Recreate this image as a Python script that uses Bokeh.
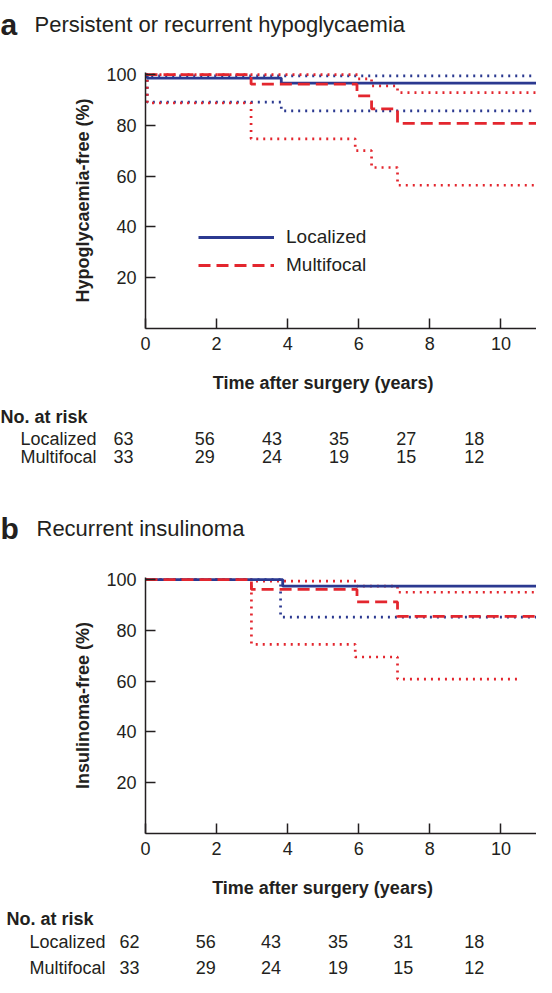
from bokeh.plotting import figure
from bokeh.models import Range1d, FixedTicker, Legend, LegendItem
from bokeh.embed import file_html
from bokeh.resources import INLINE
from bokeh.core.properties import value

FONT = "Liberation Sans"
INK = "#231f20"
BLUE = "#2b3990"
RED = "#e3262e"

x_ticks = [0, 2, 4, 6, 8, 10]
y_ticks = [20, 40, 60, 80, 100]
X_MAX = 11
Y_MAX = 100.8

# ---------------- Panel a : persistent or recurrent hypoglycaemia ----------
a_loc_t = [0, 0.05, 3.82, 11]
a_loc_s = [100, 98.6, 96.6, 96.6]
a_loc_hi_t = [0, 0.05, 11]
a_loc_hi_s = [100, 99.5, 99.5]
a_loc_lo_t = [0, 0.05, 3.82, 11]
a_loc_lo_s = [100, 89.1, 85.7, 85.7]
a_mul_t = [0, 2.97, 5.95, 6.36, 7.09, 11]
a_mul_s = [100, 96.2, 91.6, 86.5, 80.8, 80.8]
a_mul_hi_t = [0, 5.97, 6.36, 7.09, 11]
a_mul_hi_s = [100, 98.3, 95.5, 92.9, 92.9]
a_mul_lo_t = [0, 0.05, 2.97, 5.9, 6.36, 7.09, 11]
a_mul_lo_s = [100, 88.8, 74.7, 70.0, 63.4, 56.4, 56.4]

a_risk_loc = [63, 56, 43, 35, 27, 18]
a_risk_mul = [33, 29, 24, 19, 15, 12]

# ---------------- Panel b : recurrent insulinoma ---------------------------
b_loc_t = [0, 3.86, 11]
b_loc_s = [100, 97.4, 97.4]
b_loc_lo_t = [0, 3.8, 11]
b_loc_lo_s = [100, 85.2, 85.2]
b_mul_t = [0, 2.98, 5.95, 7.09, 11]
b_mul_s = [100, 96.1, 91.2, 85.5, 85.5]
b_mul_hi_t = [0, 2.98, 5.95, 7.09, 11]
b_mul_hi_s = [100, 99.4, 97.4, 95.0, 95.0]
b_mul_lo_t = [0, 2.98, 5.9, 7.09, 10.53]
b_mul_lo_s = [100, 74.5, 69.5, 60.8, 60.8]

b_risk_loc = [62, 56, 43, 35, 31, 18]
b_risk_mul = [33, 29, 24, 19, 15, 12]

groups = ["Localized", "Multifocal"]

# ---------------- layout (pixels) -------------------------------------------
W = 536
LEFT = 145            # frame left edge
FRAME_W = W - LEFT
FRAME_H = 256


def mapx(ref_x):
    if ref_x < 149:
        return max(0, ref_x - 4)
    return LEFT + (ref_x - 149) * FRAME_W / 402.0


def text_fig(top, h):
    p = figure(width=W, height=h, x_range=Range1d(0, W), y_range=Range1d(top + h, top),
               toolbar_location=None, output_backend="svg", min_border=0,
               x_axis_location=None, y_axis_location=None)
    p.outline_line_color = None
    p.xgrid.visible = False
    p.ygrid.visible = False
    return p


def txt(p, xs, ys, texts, size, bold=False, align="left", baseline="middle"):
    p.text(x=xs, y=ys, text=texts, text_font=value(FONT),
           text_font_size=f"{size}px",
           text_font_style="bold" if bold else "normal",
           text_align=align, text_baseline=baseline, text_color=INK)


def km_fig(h, top, bottom, ylabel):
    p = figure(width=W, height=h, x_range=Range1d(0, X_MAX), y_range=Range1d(0, Y_MAX),
               toolbar_location=None, output_backend="svg",
               min_border_left=LEFT, min_border_right=0,
               min_border_top=top, min_border_bottom=bottom)
    p.outline_line_color = None
    p.xgrid.visible = False
    p.ygrid.visible = False
    p.xaxis.ticker = FixedTicker(ticks=x_ticks)
    p.yaxis.ticker = FixedTicker(ticks=y_ticks)
    for ax in (p.xaxis[0], p.yaxis[0]):
        ax.axis_line_color = INK
        ax.axis_line_width = 1.5
        ax.major_tick_line_color = INK
        ax.major_tick_line_width = 1.5
        ax.major_tick_in = 10
        ax.major_tick_out = 0
        ax.minor_tick_line_color = None
        ax.major_label_text_font = FONT
        ax.major_label_text_font_size = "18px"
        ax.major_label_text_color = INK
        ax.major_label_standoff = 8
    p.yaxis.major_label_standoff = 9
    p.yaxis.axis_label = ylabel
    p.yaxis.axis_label_text_font = FONT
    p.yaxis.axis_label_text_font_size = "18px"
    p.yaxis.axis_label_text_font_style = "bold"
    p.yaxis.axis_label_text_color = INK
    p.yaxis.axis_label_standoff = 10
    return p


def draw_curves(p, curves):
    rs = []
    for t, s, color, width, dash in curves:
        r = p.step(x=t, y=s, mode="after", line_color=color, line_width=width,
                   line_dash=dash)
        rs.append(r)
    return rs


DOT = "2 5"
DOT_W = 2.7
DASH = "12 6"

# ---- title a  (global y 0..40)
f1 = text_fig(0, 40)
txt(f1, [0], [24], ["a"], 30, bold=True, baseline="alphabetic")
txt(f1, [34], [24], ["Persistent or recurrent hypoglycaemia"], 22, baseline="alphabetic")

# ---- KM a  (global y 40..366, frame 72..328)
fa = km_fig(326, 32, 38, "Hypoglycaemia-free (%)")
rs = draw_curves(fa, [
    (a_loc_hi_t, a_loc_hi_s, BLUE, DOT_W, DOT),
    (a_loc_lo_t, a_loc_lo_s, BLUE, DOT_W, DOT),
    (a_mul_hi_t, a_mul_hi_s, RED, DOT_W, DOT),
    (a_mul_lo_t, a_mul_lo_s, RED, DOT_W, DOT),
    (a_loc_t, a_loc_s, BLUE, 2.8, "solid"),
    (a_mul_t, a_mul_s, RED, 2.8, DASH),
])
legend = Legend(items=[LegendItem(label=groups[0], renderers=[rs[4]]),
                       LegendItem(label=groups[1], renderers=[rs[5]])],
                location=(53, 52), glyph_width=76, glyph_height=20,
                label_standoff=12, spacing=6, padding=0, margin=0,
                border_line_color=None, background_fill_alpha=0,
                label_text_font=FONT, label_text_font_size="19px",
                label_text_color=INK)
fa.add_layout(legend)

# ---- risk table a + title b  (global y 366..545)
f3 = text_fig(366, 179)
txt(f3, [mapx(331.7)], [382], ["Time after surgery (years)"], 18, bold=True, align="center")
txt(f3, [0], [416], ["No. at risk"], 18, bold=True)
cols_a = [mapx(v) for v in (127, 210, 279, 348, 417, 487)]
for name, gy, vals in ((groups[0], 438, a_risk_loc), (groups[1], 456, a_risk_mul)):
    txt(f3, [20], [gy], [name], 18)
    txt(f3, cols_a, [gy] * len(vals), [str(v) for v in vals], 18, align="center")
txt(f3, [0], [528], ["b"], 30, bold=True, baseline="alphabetic")
txt(f3, [36], [528], ["Recurrent insulinoma"], 22, baseline="alphabetic")

# ---- KM b  (global y 545..871, frame 577..833)
fb = km_fig(326, 32, 38, "Insulinoma-free (%)")
draw_curves(fb, [
    (b_loc_lo_t, b_loc_lo_s, BLUE, DOT_W, DOT),
    (b_mul_hi_t, b_mul_hi_s, RED, DOT_W, DOT),
    (b_mul_lo_t, b_mul_lo_s, RED, DOT_W, DOT),
    (b_loc_t, b_loc_s, BLUE, 2.8, "solid"),
    (b_mul_t, b_mul_s, RED, 2.8, DASH),
])

# ---- risk table b  (global y 871..977)
f5 = text_fig(871, 106)
txt(f5, [mapx(331)], [887], ["Time after surgery (years)"], 18, bold=True, align="center")
txt(f5, [6], [918], ["No. at risk"], 18, bold=True)
cols_b = [mapx(v) for v in (133, 211, 278, 347, 414, 487)]
for name, gy, vals in ((groups[0], 941, b_risk_loc), (groups[1], 967, b_risk_mul)):
    txt(f5, [29], [gy], [name], 18)
    txt(f5, cols_b, [gy] * len(vals), [str(v) for v in vals], 18, align="center")

open("out.html", "w").write(file_html([f1, fa, f3, fb, f5], INLINE))
